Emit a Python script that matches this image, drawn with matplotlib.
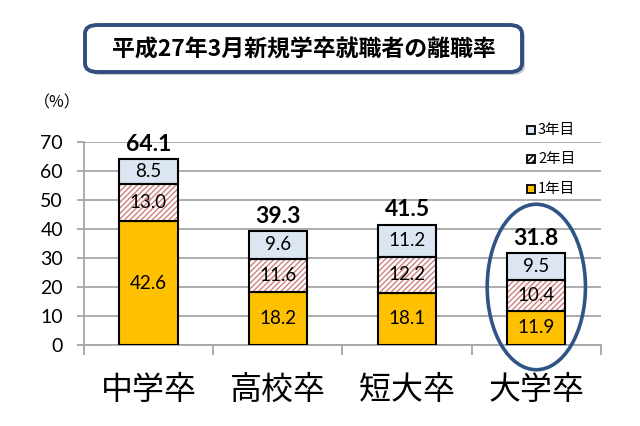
import numpy as np
import matplotlib
matplotlib.use("Agg")
from matplotlib import pyplot as plt
from matplotlib.patches import FancyBboxPatch, Ellipse

plt.rcParams['font.family'] = ['Lato', 'Noto Sans CJK JP', 'DejaVu Sans']
plt.rcParams['hatch.linewidth'] = 1.0

categories = ['中学卒', '高校卒', '短大卒', '大学卒']
year1 = [42.6, 18.2, 18.1, 11.9]
year2 = [13.0, 11.6, 12.2, 10.4]
year3 = [8.5, 9.6, 11.2, 9.5]
totals = [64.1, 39.3, 41.5, 31.8]
legend_names = ['3年目', '2年目', '1年目']
title = '平成27年3月新規学卒就職者の離職率'

c1 = '#FFC000'
c3 = '#DCE6F2'
hatch_col = '#D08080'
grid_col = '#A6A6A6'

fig = plt.figure(figsize=(6.4, 4.26), dpi=100)
ax = fig.add_axes([0.131, 0.190, 0.808, 0.477])

x = np.arange(len(categories))
w = 0.45
y1 = np.array(year1)
y2 = np.array(year2)
y3 = np.array(year3)

ax.bar(x, y1, w, color=c1, edgecolor='black', linewidth=1.5, zorder=3)
# hatched middle part: hatch drawn first, black outline on top
ax.bar(x, y2, w, bottom=y1, color='white', edgecolor=hatch_col, hatch='//////',
       linewidth=0, zorder=3)
ax.bar(x, y2, w, bottom=y1, color='none', edgecolor='black', linewidth=1.5, zorder=4)
ax.bar(x, y3, w, bottom=y1 + y2, color=c3, edgecolor='black', linewidth=1.5, zorder=3)

for i in range(len(x)):
    ax.text(x[i], y1[i] / 2, f'{year1[i]:.1f}', ha='center', va='center', fontsize=13.5, zorder=5)
    ax.text(x[i], y1[i] + y2[i] / 2, f'{year2[i]:.1f}', ha='center', va='center', fontsize=13.5, zorder=5)
    ax.text(x[i], y1[i] + y2[i] + y3[i] / 2, f'{year3[i]:.1f}', ha='center', va='center',
            fontsize=13.5, zorder=5)
    ax.annotate(f'{totals[i]:.1f}', (x[i], totals[i]), xytext=(0, 3), textcoords='offset points',
                ha='center', va='bottom', fontsize=16.5, fontweight='bold', zorder=5)

ax.set_xlim(-0.5, 3.5)
ax.set_ylim(0, 70)
ax.set_yticks(range(0, 71, 10))
ax.yaxis.grid(True, color=grid_col, linewidth=1.3, zorder=0)
ax.set_axisbelow(True)
for s in ['top', 'right']:
    ax.spines[s].set_visible(False)
for s in ['left', 'bottom']:
    ax.spines[s].set_color(grid_col)
    ax.spines[s].set_linewidth(1.3)
ax.tick_params(axis='y', length=5, color=grid_col, width=1.3, labelsize=14, pad=10)

ax.set_xticks(x)
ax.set_xticklabels(categories, fontsize=23, family=['Noto Sans CJK JP'])
ax.set_xticks(np.arange(-0.5, 3.6, 1), minor=True)
ax.tick_params(axis='x', which='major', length=0, pad=21)
ax.tick_params(axis='x', which='minor', length=7, color=grid_col, width=1.3)

fig.text(57 / 640, 1 - 103 / 426, '（%）', ha='center', va='center', fontsize=11.5,
         family=['Noto Sans CJK JP'])

# legend entries sit between the grid lines on the right
leg_y = [130, 159, 189]
leg_face = [c3, 'white', c1]
leg_hatch = [None, '//////', None]
for name, yy, fc, h in zip(legend_names, leg_y, leg_face, leg_hatch):
    fy = 1 - yy / 426
    fig.patches.append(plt.Rectangle((527 / 640, fy - 4 / 426), 8 / 640, 8 / 426,
                                     transform=fig.transFigure, facecolor=fc,
                                     edgecolor='black', linewidth=1.3, hatch=h))
    fig.text(538 / 640, fy, name, ha='left', va='center', fontsize=10.5,
             family=['Noto Sans CJK JP'])

# ellipse around 大学卒
ax.add_patch(Ellipse((3, 20), 0.76, 57, fill=False, edgecolor='#2F5586', linewidth=2.6,
                     clip_on=False, zorder=6))

# title box with shadow
fig.patches.append(FancyBboxPatch((88 / 640, 1 - 75 / 426), 437 / 640, 47 / 426,
                                  boxstyle='round,pad=0,rounding_size=0.02',
                                  transform=fig.transFigure, facecolor='#C8C8C8',
                                  edgecolor='none', zorder=1))
fig.patches.append(FancyBboxPatch((85 / 640, 1 - 72 / 426), 437 / 640, 47 / 426,
                                  boxstyle='round,pad=0,rounding_size=0.02',
                                  transform=fig.transFigure, facecolor='white',
                                  edgecolor='#2F4E7E', linewidth=2.8, zorder=2))
fig.text(304 / 640, 1 - 50 / 426, title, ha='center', va='center', fontsize=16.5,
         fontweight='bold', family=['Noto Sans CJK JP'], zorder=3)

fig.savefig('out.png', dpi=100)
